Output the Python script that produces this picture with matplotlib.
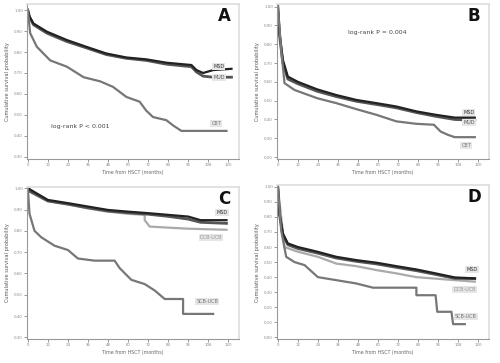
import matplotlib
matplotlib.use('Agg')
import numpy as np
import matplotlib.pyplot as plt

# ---- data (time in months, survival probability) ----
a_msd_t = [0, 1, 3.4, 11.4, 23.4, 35, 47, 59, 71, 83, 98, 101, 105, 111, 122]
a_msd_s = [1.0, 0.97, 0.936, 0.897, 0.857, 0.825, 0.793, 0.774, 0.765, 0.749, 0.738, 0.714, 0.70, 0.714, 0.72]
a_mud_t = [0, 1, 3.4, 11.4, 23.4, 35, 47, 59, 71, 83, 98, 101, 105, 111, 122]
a_mud_s = [1.0, 0.965, 0.93, 0.89, 0.85, 0.82, 0.788, 0.77, 0.76, 0.742, 0.73, 0.705, 0.685, 0.68, 0.68]
a_cbt_t = [0, 1.4, 5.4, 13.4, 23.4, 33.4, 43.4, 51, 59, 67, 71, 75, 83, 87, 92, 119]
a_cbt_s = [1.0, 0.89, 0.825, 0.76, 0.73, 0.68, 0.66, 0.634, 0.586, 0.563, 0.52, 0.49, 0.475, 0.45, 0.424, 0.424]

b_msd_t = [0, 1, 3, 6, 12, 23.6, 35, 47, 59, 71, 83, 94.5, 106, 118]
b_msd_s = [1.0, 0.86, 0.717, 0.628, 0.60, 0.56, 0.53, 0.504, 0.487, 0.469, 0.443, 0.425, 0.41, 0.41]
b_mud_t = [0, 1, 3, 6, 12, 23.6, 35, 47, 59, 71, 83, 94.5, 106, 118]
b_mud_s = [1.0, 0.85, 0.70, 0.615, 0.59, 0.55, 0.522, 0.497, 0.48, 0.462, 0.437, 0.417, 0.40, 0.396]
b_cbt_t = [0, 2, 4, 10, 23.6, 35, 47, 59, 71, 83, 93.5, 97.5, 102, 106, 118]
b_cbt_s = [1.0, 0.77, 0.593, 0.557, 0.513, 0.487, 0.455, 0.425, 0.39, 0.377, 0.372, 0.336, 0.318, 0.306, 0.306]

c_msd_t = [0, 12, 24, 36, 48, 60, 72, 84, 96, 103.5, 119]
c_msd_s = [1.0, 0.945, 0.93, 0.914, 0.898, 0.89, 0.883, 0.875, 0.867, 0.85, 0.85]
c_mud_t = [0, 12, 24, 36, 48, 60, 72, 84, 96, 103.5, 119]
c_mud_s = [0.99, 0.94, 0.925, 0.908, 0.893, 0.885, 0.878, 0.868, 0.855, 0.84, 0.835]
c_ducb_t = [0, 12, 24, 36, 48, 60, 70, 70, 73, 84, 96, 119]
c_ducb_s = [1.0, 0.94, 0.925, 0.905, 0.89, 0.88, 0.875, 0.85, 0.82, 0.815, 0.81, 0.805]
c_sucb_t = [0, 1, 4, 8, 16, 24, 30, 40, 52, 55, 62, 70, 76, 82, 93, 93, 111]
c_sucb_s = [1.0, 0.88, 0.80, 0.77, 0.73, 0.71, 0.67, 0.66, 0.66, 0.625, 0.57, 0.55, 0.52, 0.48, 0.48, 0.41, 0.41]

d_msd_t = [0, 1, 3, 6, 12, 23.6, 35, 47, 59, 71, 83, 94.5, 106, 118]
d_msd_s = [1.0, 0.823, 0.69, 0.624, 0.60, 0.569, 0.535, 0.513, 0.496, 0.473, 0.451, 0.425, 0.398, 0.392]
d_mud_t = [0, 1, 3, 6, 12, 23.6, 35, 47, 59, 71, 83, 94.5, 106, 118]
d_mud_s = [1.0, 0.815, 0.68, 0.615, 0.59, 0.56, 0.527, 0.505, 0.488, 0.465, 0.443, 0.418, 0.392, 0.39]
d_ducb_t = [0, 4, 12, 24, 35, 47, 59, 71, 83, 94.5, 106, 118]
d_ducb_s = [1.0, 0.60, 0.569, 0.535, 0.49, 0.473, 0.447, 0.425, 0.40, 0.39, 0.38, 0.37]
d_sucb_t = [0, 2, 5, 10, 16, 24, 35, 47, 57, 83, 83, 94.5, 95.5, 104, 105, 112]
d_sucb_s = [1.0, 0.71, 0.535, 0.50, 0.48, 0.40, 0.38, 0.358, 0.33, 0.33, 0.28, 0.28, 0.17, 0.17, 0.088, 0.088]

x_ticks = [0, 12, 24, 36, 48, 60, 72, 84, 96, 108, 120]

fig = plt.figure(figsize=(5, 3.63), dpi=100)

def setup(ax, yticks, ylim, letter):
    ax.set_xlim(-0.5, 126.5)
    ax.set_ylim(*ylim)
    ax.set_xticks(x_ticks)
    ax.set_yticks(yticks)
    ax.set_yticklabels([f'{v:.2f}' for v in yticks])
    ax.tick_params(labelsize=2.8, length=2, width=0.6, colors='#888888', pad=1)
    for s in ['top', 'right']:
        ax.spines[s].set_color('#dddddd')
        ax.spines[s].set_linewidth(1.2)
    for s in ['left', 'bottom']:
        ax.spines[s].set_color('#999999')
        ax.spines[s].set_linewidth(0.8)
    ax.set_xlabel('Time from HSCT (months)', fontsize=3.4, color='#666666', labelpad=2)
    ax.set_ylabel('Cumulative survival probability', fontsize=3.6, color='#555555', labelpad=3)
    ax.text(0.93, 0.92, letter, transform=ax.transAxes, fontsize=12, fontweight='bold',
            ha='center', va='center', color='#111111')

def lab(ax, x, y, s, c='#555555'):
    ax.text(x, y, s, fontsize=3.5, color=c, ha='left', va='center',
            bbox=dict(boxstyle='square,pad=0.2', fc='#e6e6e6', ec='none'))

# A
axA = fig.add_axes([0.054, 0.562, 0.424, 0.427])
axA.plot(a_mud_t, a_mud_s, color='#555555', lw=2.0)
axA.plot(a_msd_t, a_msd_s, color='#222222', lw=1.6)
axA.plot(a_cbt_t, a_cbt_s, color='#777777', lw=1.6)
setup(axA, np.round(np.arange(0.3, 1.01, 0.1), 2), (0.29, 1.029), 'A')
lab(axA, 111, 0.73, 'MSD', '#333333')
lab(axA, 111, 0.68, 'MUD', '#555555')
lab(axA, 110, 0.46, 'CBT', '#777777')
axA.text(14, 0.44, 'log-rank P < 0.001', fontsize=4.5, color='#444444')

# B
axB = fig.add_axes([0.554, 0.562, 0.424, 0.427])
axB.plot(b_mud_t, b_mud_s, color='#555555', lw=2.0)
axB.plot(b_msd_t, b_msd_s, color='#222222', lw=1.6)
axB.plot(b_cbt_t, b_cbt_s, color='#777777', lw=1.6)
setup(axB, np.round(np.arange(0.2, 1.01, 0.1), 2), (0.19, 1.014), 'B')
lab(axB, 111, 0.435, 'MSD', '#333333')
lab(axB, 111, 0.385, 'MUD', '#555555')
lab(axB, 110, 0.26, 'CBT', '#777777')
axB.text(42, 0.855, 'log-rank P = 0.004', fontsize=4.5, color='#444444')

# C
axC = fig.add_axes([0.054, 0.066, 0.424, 0.419])
axC.plot(c_ducb_t, c_ducb_s, color='#aaaaaa', lw=1.6)
axC.plot(c_mud_t, c_mud_s, color='#555555', lw=2.0)
axC.plot(c_msd_t, c_msd_s, color='#222222', lw=1.6)
axC.plot(c_sucb_t, c_sucb_s, color='#777777', lw=1.6)
setup(axC, np.round(np.arange(0.3, 1.01, 0.1), 2), (0.292, 1.006), 'C')
lab(axC, 113, 0.885, 'MSD', '#333333')
lab(axC, 103, 0.77, 'DCB-UCB', '#999999')
lab(axC, 101, 0.47, 'SCB-UCB', '#777777')

# D
axD = fig.add_axes([0.554, 0.066, 0.424, 0.424])
axD.plot(d_ducb_t, d_ducb_s, color='#aaaaaa', lw=1.6)
axD.plot(d_mud_t, d_mud_s, color='#555555', lw=2.0)
axD.plot(d_msd_t, d_msd_s, color='#222222', lw=1.6)
axD.plot(d_sucb_t, d_sucb_s, color='#777777', lw=1.6)
setup(axD, np.round(np.arange(0.0, 1.01, 0.1), 2), (-0.011, 1.011), 'D')
lab(axD, 113, 0.45, 'MSD', '#333333')
lab(axD, 105, 0.32, 'DCB-UCB', '#999999')
lab(axD, 106, 0.14, 'SCB-UCB', '#777777')

fig.savefig('out.png', dpi=100)
